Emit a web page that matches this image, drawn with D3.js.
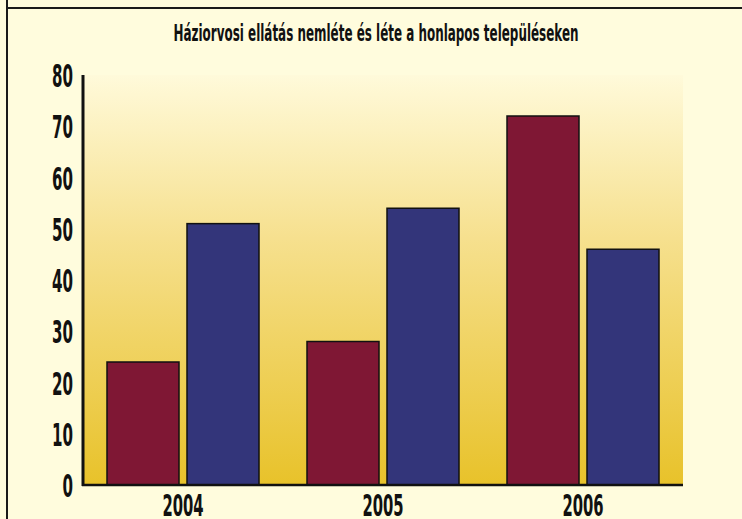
<!DOCTYPE html>
<html>
<head>
<meta charset="utf-8">
<script src="https://cdn.jsdelivr.net/npm/d3@7"></script>
<style>
  html, body { margin: 0; padding: 0; background: #FFFCDD; }
  svg { display: block; }
</style>
</head>
<body>
<div id="chart"></div>
<script>
// Data
const years = ["2004", "2005", "2006"];
const series = ["nemlete", "lete"];
const nemlete = [24, 28, 72];
const lete = [51, 54, 46];
const yTicks = [0, 10, 20, 30, 40, 50, 60, 70, 80];
const colors = ["#7F1734", "#33357A"];
const title = "Háziorvosi ellátás nemléte és léte a honlapos településeken";

const width = 742;
const height = 519;
const margin = { top: 75, right: 59, bottom: 34, left: 83 };
const font = "'Liberation Sans Narrow', 'Arial Narrow', 'DejaVu Sans Condensed', sans-serif";

const svg = d3.select("#chart")
  .append("svg")
  .attr("width", width)
  .attr("height", height);

// frame lines (top-left border of the original)
svg.append("line").attr("x1", 7).attr("x2", width).attr("y1", 8).attr("y2", 8)
  .attr("stroke", "#1a1a1a").attr("stroke-width", 2);
svg.append("line").attr("x1", 7).attr("x2", 7).attr("y1", 0).attr("y2", height)
  .attr("stroke", "#1a1a1a").attr("stroke-width", 2);

// gradient for the plot area
const grad = svg.append("defs").append("linearGradient")
  .attr("id", "bg").attr("x1", 0).attr("y1", 0).attr("x2", 0).attr("y2", 1);
grad.append("stop").attr("offset", "0%").attr("stop-color", "#FFFADA");
grad.append("stop").attr("offset", "40%").attr("stop-color", "#F6E08E");
grad.append("stop").attr("offset", "100%").attr("stop-color", "#E8C22A");

const x0 = d3.scaleBand()
  .domain(years)
  .range([margin.left, width - margin.right]);

const x1 = d3.scaleBand()
  .domain(series)
  .range([0, x0.bandwidth()])
  .paddingInner(0.1)
  .paddingOuter(0.3);

const y = d3.scaleLinear()
  .domain([0, 80])
  .range([height - margin.bottom, margin.top]);

svg.append("rect")
  .attr("x", margin.left)
  .attr("y", margin.top)
  .attr("width", width - margin.right - margin.left)
  .attr("height", height - margin.bottom - margin.top)
  .attr("fill", "url(#bg)");

// Title
svg.append("text")
  .attr("x", 376)
  .attr("y", 41)
  .attr("text-anchor", "middle")
  .attr("font-family", font)
  .attr("font-weight", "bold")
  .attr("font-size", 23)
  .attr("textLength", 405)
  .attr("lengthAdjust", "spacingAndGlyphs")
  .attr("fill", "#111")
  .text(title);

// Bars
const rows = years.map((yr, i) => ({ year: yr, values: [nemlete[i], lete[i]] }));

const groups = svg.selectAll("g.group")
  .data(rows)
  .enter()
  .append("g")
  .attr("class", "group")
  .attr("transform", d => `translate(${x0(d.year)},0)`);

groups.selectAll("rect")
  .data(d => d.values.map((v, j) => ({ key: series[j], value: v, color: colors[j] })))
  .enter()
  .append("rect")
  .attr("x", d => x1(d.key))
  .attr("y", d => y(d.value))
  .attr("width", x1.bandwidth())
  .attr("height", d => y(0) - y(d.value))
  .attr("fill", d => d.color)
  .attr("stroke", "#111")
  .attr("stroke-width", 1.5);

// Y axis
const yAxis = svg.append("g")
  .attr("transform", `translate(${margin.left},0)`)
  .call(d3.axisLeft(y).tickValues(yTicks).tickSize(0).tickPadding(10));
yAxis.select(".domain").attr("stroke", "#111").attr("stroke-width", 3)
  .attr("d", `M0,${y(0) + 1}V${margin.top}`);
yAxis.selectAll("text")
  .attr("font-family", font)
  .attr("font-weight", "bold")
  .attr("font-size", 32)
  .attr("dy", "0.36em")
  .attr("fill", "#111")
  .attr("textLength", d => String(d).length * 10.5)
  .attr("lengthAdjust", "spacingAndGlyphs");

// X axis
const xAxis = svg.append("g")
  .attr("transform", `translate(0,${y(0)})`)
  .call(d3.axisBottom(x0).tickSize(0));
xAxis.select(".domain").attr("stroke", "#111").attr("stroke-width", 2.5)
  .attr("d", `M${margin.left - 1},0H${width - margin.right}`);
xAxis.selectAll("text")
  .attr("font-family", font)
  .attr("font-weight", "bold")
  .attr("font-size", 31)
  .attr("y", 31)
  .attr("dy", 0)
  .attr("fill", "#111")
  .attr("textLength", d => d.length * 10.3)
  .attr("lengthAdjust", "spacingAndGlyphs");
</script>
</body>
</html>
